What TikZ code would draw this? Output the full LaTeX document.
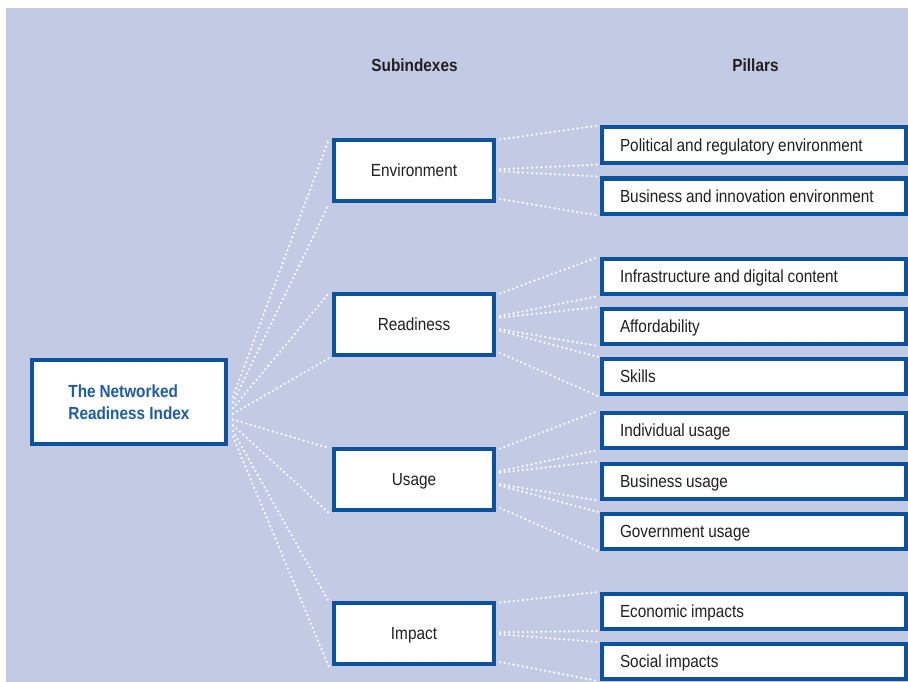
\documentclass[tikz,border=0pt]{standalone}
\usepackage{fontspec}
\setmainfont{Liberation Sans}[FakeStretch=0.875]
\usetikzlibrary{calc}
\definecolor{bgblue}{RGB}{195,203,228}
\definecolor{frameblue}{RGB}{12,82,158}
\definecolor{titleblue}{RGB}{30,92,166}
\definecolor{inkgray}{RGB}{35,31,32}

\begin{document}
\begin{tikzpicture}[x=1bp, y=-1bp,
  box/.style={draw=frameblue, line width=4bp, fill=white, inner sep=0pt,
              text=inkgray, font=\fontsize{17.6}{22}\selectfont},
  oneline/.style={text height=12.6bp, text depth=0pt},
  subbox/.style={box, oneline, minimum width=160bp, minimum height=61bp},
  pillar/.style={box, oneline, minimum width=304bp, minimum height=35bp,
                 text width=268bp, inner xsep=18bp, align=left,
                 execute at begin node={\spaceskip=0.22em plus 0.1em\relax}},
  hub/.style={box, minimum width=194bp, minimum height=84bp, text=titleblue,
              font=\bfseries\fontsize{17.6}{22}\selectfont, align=left},
  heading/.style={oneline, inner sep=0pt, text=inkgray,
                  font=\bfseries\fontsize{17.6}{22}\selectfont},
  link/.style={draw=white, line width=2.4bp, dash pattern=on 0bp off 4.6bp,
               line cap=round}
]
\useasboundingbox (0,0) rectangle (908,682);
\fill[bgblue] (6,8) rectangle (908,682);

% column headings
\node[heading] (h-sub) at (414.5,65) {Subindexes};
\node[heading] (h-pil) at (755.5,65) {Pillars};

% index, subindexes, pillars
\node[hub] (hub) at (129,402) {\spaceskip=0.22em plus 0.1em The Networked\\Readiness Index};

\node[subbox] (env)    at (414,170.5) {Environment};
\node[subbox] (read)   at (414,324.5) {Readiness};
\node[subbox] (usage)  at (414,479.5) {Usage};
\node[subbox] (impact) at (414,633.5) {Impact};

\node[pillar] (pol)   at (754,145)   {Political and regulatory environment};
\node[pillar] (bie)   at (754,196)   {Business and innovation environment};
\node[pillar] (infra) at (754,276.5) {Infrastructure and digital content};
\node[pillar] (aff)   at (754,326.5) {Affordability};
\node[pillar] (skl)   at (754,376.5) {Skills};
\node[pillar] (ind)   at (754,430.5) {Individual usage};
\node[pillar] (bus)   at (754,481)   {Business usage};
\node[pillar] (gov)   at (754,531.5) {Government usage};
\node[pillar] (eco)   at (754,611.5) {Economic impacts};
\node[pillar] (soc)   at (754,661.5) {Social impacts};

% index to subindexes
\foreach \sub [count=\i from 0] in {env,read,usage,impact} {
  \draw[link] ($(hub.north east)!{0.44+0.13*\i}!(hub.south east) + (5,0)$)
              -- ($(\sub.north west) + (-3,1)$);
  \draw[link] ($(hub.north east)!{0.505+0.13*\i}!(hub.south east) + (5,0)$)
              -- ($(\sub.south west) + (-3,1)$);
}

% start points on the right side of each subindex box
\foreach \sub in {env,read,usage,impact} {
  \coordinate (\sub-a) at ($(\sub.north east) + (4,1.5)$);
  \coordinate (\sub-b) at ($(\sub.south east) + (4,-4)$);
}

% Environment
\draw[link] (env-a) -- ([xshift=-2bp]pol.north west);
\draw[link] ($(env-a)!0.5!(env-b)$) -- ([xshift=-2bp]pol.south west);
\draw[link] ($(env-a)!0.5!(env-b) + (0,2)$) -- ([xshift=-2bp]bie.north west);
\draw[link] (env-b) -- ([xshift=-2bp]bie.south west);

% Readiness
\draw[link] (read-a) -- ([xshift=-2bp]infra.north west);
\draw[link] ($(read-a)!0.38!(read-b)$) -- ([xshift=-2bp]infra.south west);
\draw[link] ($(read-a)!0.38!(read-b) + (0,1.5)$) -- ([xshift=-2bp]aff.north west);
\draw[link] ($(read-a)!0.6!(read-b)$) -- ([xshift=-2bp]aff.south west);
\draw[link] ($(read-a)!0.6!(read-b) + (0,1.5)$) -- ([xshift=-2bp]skl.north west);
\draw[link] (read-b) -- ([xshift=-2bp]skl.south west);

% Usage
\draw[link] (usage-a) -- ([xshift=-2bp]ind.north west);
\draw[link] ($(usage-a)!0.38!(usage-b)$) -- ([xshift=-2bp]ind.south west);
\draw[link] ($(usage-a)!0.38!(usage-b) + (0,1.5)$) -- ([xshift=-2bp]bus.north west);
\draw[link] ($(usage-a)!0.6!(usage-b)$) -- ([xshift=-2bp]bus.south west);
\draw[link] ($(usage-a)!0.6!(usage-b) + (0,1.5)$) -- ([xshift=-2bp]gov.north west);
\draw[link] (usage-b) -- ([xshift=-2bp]gov.south west);

% Impact
\draw[link] (impact-a) -- ([xshift=-2bp]eco.north west);
\draw[link] ($(impact-a)!0.5!(impact-b)$) -- ([xshift=-2bp]eco.south west);
\draw[link] ($(impact-a)!0.5!(impact-b) + (0,2)$) -- ([xshift=-2bp]soc.north west);
\draw[link] (impact-b) -- ([xshift=-2bp]soc.south west);
\end{tikzpicture}
\end{document}
